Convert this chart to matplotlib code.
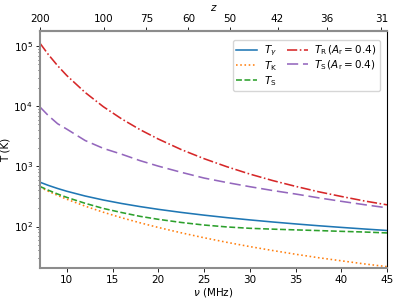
import numpy as np
import matplotlib
matplotlib.use("Agg")
import matplotlib.pyplot as plt

# frequencias (MHz) e temperaturas (K)
nu = [7.0667, 8, 9, 10, 12, 14, 16, 18, 20, 22.5, 25, 27.5, 30, 32.5, 35, 37.5, 40, 42.5, 45]
T_gamma = [547.5, 483.8, 430.1, 387.1, 322.6, 276.5, 241.9, 215.0, 193.5, 172.0,
           154.8, 140.7, 129.0, 119.1, 110.6, 103.2, 96.8, 91.1, 86.0]
T_K = [452, 386, 330, 285, 219, 173, 140, 115.5, 96.6, 78.7,
       65.1, 54.6, 46.4, 39.9, 34.6, 30.3, 26.9, 23.9, 21.5]
T_S = [465, 402, 348, 306, 244, 200, 171, 148, 132, 117,
       106, 98.5, 93.5, 90.5, 88, 85.7, 83.2, 81.1, 78.3]
T_R = [113000, 72650, 47640, 32700, 17110, 9880, 6195, 4108, 2865, 1915,
       1350, 990, 748, 583, 467, 380, 317, 267, 230]
T_S_r = [9800, 7000, 5150, 4190, 2710, 2000, 1600, 1252, 1014, 801,
         642, 540, 461, 398, 348, 301, 263, 231.5, 205]

z_ticks = [200, 100, 75, 60, 50, 42, 36, 31]
nu21 = 1420.4

fs = 7.5
plt.rcParams['font.size'] = fs

fig = plt.figure(figsize=(3.99, 3.01), dpi=100)
ax = fig.add_axes([0.100, 0.110, 0.870, 0.787])

ax.plot(nu, T_gamma, color='#1f77b4', lw=1.15, label=r'$T_\gamma$')
ax.plot(nu, T_K, color='#ff7f0e', lw=1.15, ls=':', label=r'$T_{\rm K}$')
ax.plot(nu, T_S, color='#2ca02c', lw=1.15, ls='--', label=r'$T_{\rm S}$')
ax.plot(nu, T_R, color='#d62728', lw=1.15, ls='-.', label=r'$T_{\rm R}\,(A_{\rm r}=0.4)$')
ax.plot(nu, T_S_r, color='#9467bd', lw=1.15, dashes=(7, 3), label=r'$T_{\rm S}\,(A_{\rm r}=0.4)$')

ax.set_yscale('log')
ax.set_xlim(nu21 / 201 - 0.001, 45)
ax.set_ylim(20.5, 1.8e5)
ax.set_xticks([10, 15, 20, 25, 30, 35, 40, 45])
ax.set_xlabel(r'$\nu$ (MHz)', fontsize=fs, labelpad=1)
ax.set_ylabel('T (K)', fontsize=fs, labelpad=2)
ax.tick_params(labelsize=fs, length=3, width=0.6, pad=2)
ax.tick_params(which='minor', length=1.8, width=0.5)

for s in ['left', 'bottom', 'top']:
    ax.spines[s].set_color('#8c8c8c')
    ax.spines[s].set_linewidth(1.5)
ax.spines['right'].set_color('black')
ax.spines['right'].set_linewidth(0.8)

top = ax.secondary_xaxis('top', functions=(lambda n: nu21 / n - 1, lambda z: nu21 / (1 + z)))
top.set_xticks(z_ticks)
top.set_xticklabels([str(z) for z in z_ticks])
top.set_xlabel(r'$z$', fontsize=fs, labelpad=2)
top.tick_params(labelsize=fs, length=3, width=0.6, pad=2)
top.spines['top'].set_color('#8c8c8c')
top.spines['top'].set_linewidth(1.5)

ax.legend(loc='upper right', ncol=2, fontsize=fs, handlelength=2.0,
          columnspacing=1.0, borderpad=0.35, labelspacing=0.1, handletextpad=0.6,
          framealpha=0.8, bbox_to_anchor=(0.995, 0.985))

fig.savefig('out.png', dpi=100)
